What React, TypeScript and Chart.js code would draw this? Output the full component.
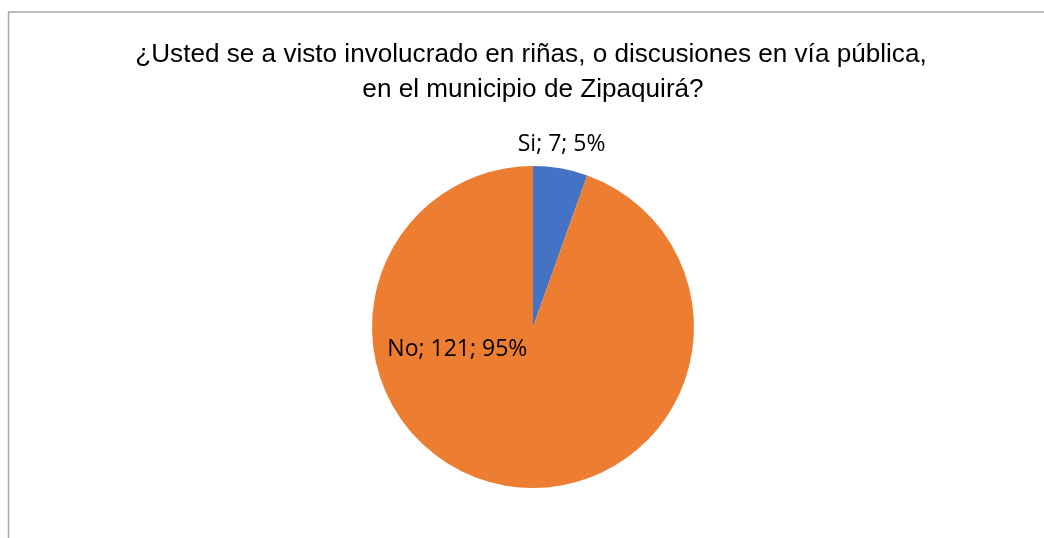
import React, { useEffect, useRef } from "react";
import { Chart, registerables } from "chart.js";

Chart.register(...registerables);

const titleLines = [
  "¿Usted se a visto involucrado en riñas, o discusiones en vía pública,",
  "en el municipio de Zipaquirá?",
];
const categories = ["Si", "No"];
const counts = [7, 121];
const percents = ["5%", "95%"];
const colors = ["#4472C4", "#ED7D31"];

const framePlugin = {
  id: "frame",
  beforeDraw(chart: any) {
    const ctx = chart.ctx;
    ctx.save();
    ctx.fillStyle = "#ffffff";
    ctx.fillRect(0, 0, chart.width, chart.height);
    ctx.strokeStyle = "#a6a6a6";
    ctx.lineWidth = 1.5;
    ctx.beginPath();
    ctx.moveTo(8.5, chart.height + 5);
    ctx.lineTo(8.5, 12);
    ctx.lineTo(chart.width + 5, 12);
    ctx.stroke();
    ctx.restore();
  },
};

const titlePlugin = {
  id: "customTitle",
  afterDraw(chart: any) {
    const ctx = chart.ctx;
    const cx = chart.chartArea.left + chart.chartArea.width / 2;
    const sx = 1.045;
    ctx.save();
    ctx.fillStyle = "#000000";
    ctx.textAlign = "center";
    ctx.textBaseline = "alphabetic";
    ctx.font = '25px "Liberation Sans Narrow", "Arial Narrow", "Liberation Sans", sans-serif';
    ctx.translate(cx, 0);
    ctx.scale(sx, 1);
    ctx.fillText(titleLines[0], -2 / sx, 62);
    ctx.fillText(titleLines[1], 0, 97);
    ctx.restore();
  },
};

const labelPlugin = {
  id: "sliceLabels",
  afterDatasetsDraw(chart: any) {
    const ctx = chart.ctx;
    const meta = chart.getDatasetMeta(0);
    ctx.save();
    ctx.fillStyle = "#000000";
    ctx.textAlign = "center";
    ctx.textBaseline = "middle";
    ctx.font = '23px "Open Sans", "Noto Sans", sans-serif';
    meta.data.forEach((arc: any, i: number) => {
      const { x, y, outerRadius } = arc.getProps(["x", "y", "outerRadius"], true);
      const text = `${categories[i]}; ${counts[i]}; ${percents[i]}`;
      let px: number, py: number;
      if (i === 0) {
        const mid = (arc.startAngle + arc.endAngle) / 2;
        const r = outerRadius + 24;
        px = x + Math.cos(mid) * r - 3;
        py = y + Math.sin(mid) * r;
      } else {
        px = x - outerRadius * 0.47;
        py = y + outerRadius * 0.14;
      }
      ctx.fillText(text, px, py);
    });
    ctx.restore();
  },
};

export default function App() {
  const ref = useRef<HTMLCanvasElement>(null);
  useEffect(() => {
    if (!ref.current) return;
    const chart = new Chart(ref.current, {
      type: "pie",
      data: {
        labels: categories,
        datasets: [
          {
            data: counts,
            backgroundColor: colors,
            borderWidth: 0,
          },
        ],
      },
      options: {
        responsive: false,
        animation: false,
        layout: { padding: { top: 166, bottom: 50, left: 200, right: 178 } },
        plugins: {
          legend: { display: false },
          title: { display: false },
          tooltip: { enabled: false },
        },
      },
      plugins: [framePlugin, titlePlugin, labelPlugin],
    });
    return () => chart.destroy();
  }, []);
  return (
    <div style={{ position: "fixed", left: 0, top: 0, width: 1044, height: 538 }}>
      <canvas ref={ref} width={1044} height={538} style={{ display: "block" }} />
    </div>
  );
}
